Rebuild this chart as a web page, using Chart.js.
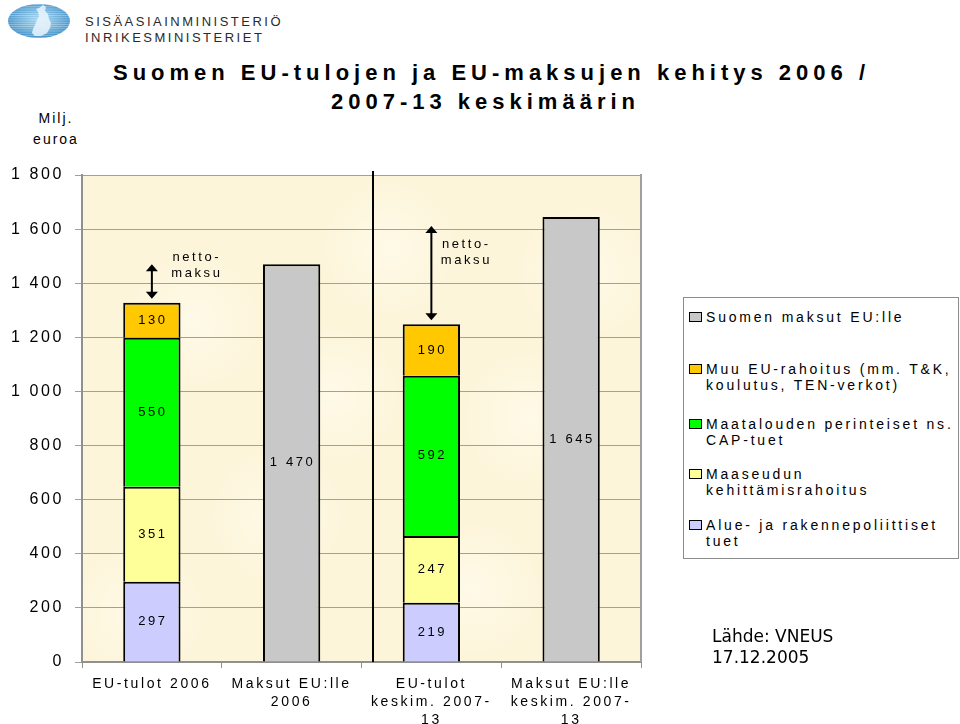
<!DOCTYPE html>
<html><head><meta charset="utf-8">
<script src="https://cdn.jsdelivr.net/npm/chart.js@4.4.1/dist/chart.umd.min.js"></script>
<style>
html,body{margin:0;padding:0;background:#fff;width:960px;height:724px;overflow:hidden;font-family:"Liberation Sans",Arial,sans-serif;color:#000;}
#c{position:absolute;left:0;top:0;}
.t{position:absolute;left:0;text-align:center;font-weight:bold;font-size:22px;letter-spacing:5px;line-height:29px;white-space:nowrap;}
#logo{position:absolute;left:6px;top:2px;}
.lt{position:absolute;left:85px;font-size:13px;letter-spacing:2.5px;color:#2a2a2a;line-height:16px;white-space:nowrap;}
#unit{position:absolute;left:0;width:112px;top:108px;text-align:center;font-size:14px;letter-spacing:2px;line-height:21px;}
#legend{position:absolute;left:683px;top:297px;width:274px;height:260px;border:1px solid #8c8c8c;background:#fff;}
.li{position:absolute;left:5px;font-size:14px;letter-spacing:2.8px;line-height:16px;white-space:nowrap;}
.mk{position:absolute;left:0;top:3px;width:11px;height:8px;border:1px solid #000;}
.li span{display:block;margin-left:17px;}
#src{position:absolute;left:712px;top:626px;font-family:"DejaVu Sans",Verdana,sans-serif;font-size:17px;line-height:21px;}
</style></head>
<body>
<svg id="logo" width="70" height="40" viewBox="0 0 70 40">
  <defs>
    <radialGradient id="g" cx="50%" cy="45%" r="60%">
      <stop offset="0" stop-color="#a9d8f2"/><stop offset="1" stop-color="#3b8cc6"/>
    </radialGradient>
    <pattern id="st" width="4" height="2.2" patternUnits="userSpaceOnUse">
      <rect width="4" height="0.8" fill="#ffffff" opacity="0.35"/>
    </pattern>
  </defs>
  <ellipse cx="33" cy="19" rx="31" ry="17" fill="url(#g)"/>
  <ellipse cx="33" cy="19" rx="31" ry="17" fill="url(#st)"/>
  <path d="M37 3 L40 5 L39 9 L42 12 L43 17 L45 21 L44 26 L41 31 L35 34 L29 34 L26 31 L27 27 L29 23 L31 18 L33 14 L32 10 L30 7 L33 6 Z" fill="#eaf6fd" opacity="0.85"/>
</svg>
<div class="lt" style="top:14px">SISÄASIAINMINISTERIÖ</div>
<div class="lt" style="top:30px">INRIKESMINISTERIET</div>
<div class="t" style="top:58px;width:983px">Suomen EU-tulojen ja EU-maksujen kehitys 2006 /</div>
<div class="t" style="top:87px;width:971px">2007-13 keskimäärin</div>
<div id="unit">Milj.<br>euroa</div>
<canvas id="c" width="960" height="724"></canvas>
<div id="legend"></div>
<div id="src">Lähde: VNEUS<br>17.12.2005</div>
<script>
// ---- data ----
const categories = [["EU-tulot 2006"], ["Maksut EU:lle", "2006"], ["EU-tulot", "keskim. 2007-", "13"], ["Maksut EU:lle", "keskim. 2007-", "13"]];
const alueJaRakenne = [297, null, 219, null];
const maaseutu = [351, null, 247, null];
const maatalousCAP = [550, null, 592, null];
const muuRahoitus = [130, null, 190, null];
const maksutEU = [null, 1470, null, 1645];
const yTicks = [0, 200, 400, 600, 800, 1000, 1200, 1400, 1600, 1800];
const legendLabels = [
  ["Suomen maksut EU:lle"],
  ["Muu EU-rahoitus (mm. T&K,", "koulutus, TEN-verkot)"],
  ["Maatalouden perinteiset ns.", "CAP-tuet"],
  ["Maaseudun", "kehittämisrahoitus"],
  ["Alue- ja rakennepoliittiset", "tuet"]
];
const netLabel = ["netto-", "maksu"];

// ---- styles ----
const colors = {maksut:'#c8c8c8', muu:'#ffc800', cap:'#00ff00', maaseutu:'#ffff99', alue:'#ccccff'};
const fmt = v => String(v).replace(/\B(?=(\d{3})+(?!\d))/g, ' ');
const FONT = '"Liberation Sans", Arial, sans-serif';

// legend (built from arrays)
const legendColors = [colors.maksut, colors.muu, colors.cap, colors.maaseutu, colors.alue];
const legendTops = [11, 63, 118, 168, 219];
const lg = document.getElementById('legend');
legendLabels.forEach((lines, i) => {
  const d = document.createElement('div');
  d.className = 'li'; d.style.top = legendTops[i] + 'px';
  d.innerHTML = '<div class="mk" style="background:' + legendColors[i] + '"></div>' +
    lines.map(l => '<span>' + l.replace(/&/g,'&amp;') + '</span>').join('');
  lg.appendChild(d);
});

function arrow(ctx, x, y1, y2) {
  const h = 7, w = 6;
  ctx.beginPath(); ctx.moveTo(x, y1 + h - 1); ctx.lineTo(x, y2 - h + 1);
  ctx.lineWidth = 2; ctx.stroke();
  ctx.beginPath(); ctx.moveTo(x, y1); ctx.lineTo(x - w, y1 + h); ctx.lineTo(x + w, y1 + h); ctx.closePath(); ctx.fill();
  ctx.beginPath(); ctx.moveTo(x, y2); ctx.lineTo(x - w, y2 - h); ctx.lineTo(x + w, y2 - h); ctx.closePath(); ctx.fill();
}

const decor = {
  id: 'decor',
  beforeDraw(chart) {
    const {ctx, chartArea: a} = chart;
    ctx.save();
    ctx.fillStyle = '#fdf5da';
    ctx.fillRect(a.left, a.top, a.right - a.left, a.bottom - a.top);
    const spots = [[0.2,0.3],[0.55,0.15],[0.8,0.5],[0.35,0.7],[0.7,0.85],[0.1,0.9],[0.9,0.2],[0.45,0.45]];
    spots.forEach(([fx, fy]) => {
      const cx = a.left + fx * (a.right - a.left), cy = a.top + fy * (a.bottom - a.top);
      const g = ctx.createRadialGradient(cx, cy, 0, cx, cy, 70);
      g.addColorStop(0, 'rgba(255,252,238,0.7)'); g.addColorStop(1, 'rgba(255,252,238,0)');
      ctx.fillStyle = g; ctx.fillRect(a.left, a.top, a.right - a.left, a.bottom - a.top);
    });
    ctx.restore();
    ctx.letterSpacing = '2.6px';
  },
  beforeDatasetsDraw(chart) {
    const {ctx, chartArea: a} = chart;
    ctx.save();
    ctx.strokeStyle = '#a0a0a0'; ctx.lineWidth = 2;
    ctx.beginPath(); ctx.moveTo(a.right, a.top - 1); ctx.lineTo(a.right, a.bottom); ctx.stroke();
    ctx.restore();
  },
  afterDatasetsDraw(chart) {
    const {ctx, chartArea: a, scales: {x, y}} = chart;
    ctx.save();
    ctx.letterSpacing = '2.6px';
    // separator between 2006 and 2007-13
    const p1 = x.getPixelForValue(1), p2 = x.getPixelForValue(2);
    const sx = Math.round(p1 + 0.58 * (p2 - p1));
    ctx.strokeStyle = '#000'; ctx.lineWidth = 2;
    ctx.beginPath(); ctx.moveTo(sx, a.top - 4); ctx.lineTo(sx, a.bottom); ctx.stroke();
    // value labels
    ctx.fillStyle = '#000'; ctx.font = '13px ' + FONT;
    ctx.textAlign = 'center'; ctx.textBaseline = 'middle';
    chart.data.datasets.forEach((ds, i) => {
      chart.getDatasetMeta(i).data.forEach((el, j) => {
        const v = ds.data[j]; if (v == null) return;
        ctx.fillText(fmt(v), el.x + 1, (el.y + el.base) / 2);
      });
    });
    // net payment arrows
    const incomeTotals = [0, 2].map(j => alueJaRakenne[j] + maaseutu[j] + maatalousCAP[j] + muuRahoitus[j]);
    const payTotals = [maksutEU[1], maksutEU[3]];
    const dxs = [45, 35];
    [0, 2].forEach((j, k) => {
      const cx = x.getPixelForValue(j);
      const yTop = y.getPixelForValue(payTotals[k]) + (k ? 9 : 0);
      const yBot = y.getPixelForValue(incomeTotals[k]) - 4;
      ctx.fillStyle = '#000'; ctx.strokeStyle = '#000';
      arrow(ctx, cx, yTop, yBot);
      const my = (y.getPixelForValue(payTotals[k]) + y.getPixelForValue(incomeTotals[k])) / 2 - 18;
      ctx.font = '13px ' + FONT;
      ctx.fillText(netLabel[0], cx + dxs[k], my - 8);
      ctx.fillText(netLabel[1], cx + dxs[k], my + 8);
    });
    ctx.restore();
  }
};

const common = {borderColor: '#000', borderWidth: 2, borderSkipped: 'start', barPercentage: 0.41, categoryPercentage: 1};
new Chart(document.getElementById('c'), {
  type: 'bar',
  data: {
    labels: categories,
    datasets: [
      {label: 'Alue- ja rakennepoliittiset tuet', data: alueJaRakenne, backgroundColor: colors.alue, ...common},
      {label: 'Maaseudun kehittämisrahoitus', data: maaseutu, backgroundColor: colors.maaseutu, ...common},
      {label: 'Maatalouden perinteiset ns. CAP-tuet', data: maatalousCAP, backgroundColor: colors.cap, ...common},
      {label: 'Muu EU-rahoitus', data: muuRahoitus, backgroundColor: colors.muu, ...common},
      {label: 'Suomen maksut EU:lle', data: maksutEU, backgroundColor: colors.maksut, ...common}
    ]
  },
  options: {
    responsive: false, animation: false,
    layout: {padding: {top: 175, right: 319, left: 0, bottom: 0}},
    plugins: {legend: {display: false}, tooltip: {enabled: false}, title: {display: false}},
    scales: {
      x: {
        stacked: true,
        grid: {offset: true, drawOnChartArea: false, drawTicks: true, tickLength: 6, color: '#909090'},
        border: {color: '#909090', width: 2},
        ticks: {color: '#000', font: {family: FONT, size: 14, lineHeight: 1.29}, padding: 7, maxRotation: 0, autoSkip: false},
        afterFit(s) { s.height = 62; s.paddingLeft = 0; s.paddingRight = 0; }
      },
      y: {
        stacked: true, min: 0, max: 1800,
        afterBuildTicks(s) { s.ticks = yTicks.map(v => ({value: v})); },
        grid: {color: '#a0a0a0', lineWidth: 1, drawTicks: true, tickLength: 7, tickColor: '#a0a0a0'},
        border: {color: '#909090', width: 2},
        ticks: {color: '#000', font: {family: FONT, size: 16}, padding: 11, callback: v => fmt(v)},
        afterFit(s) { s.width = 82; s.paddingTop = 0; s.paddingBottom = 0; }
      }
    }
  },
  plugins: [decor]
});
</script>
</body></html>
